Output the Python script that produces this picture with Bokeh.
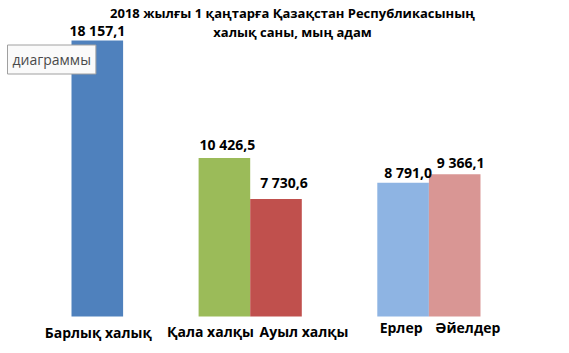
from bokeh.plotting import figure
from bokeh.models import ColumnDataSource, FactorRange, Range1d, Label
from bokeh.core.properties import value
from bokeh.embed import file_html
from bokeh.resources import INLINE

# ---- data ----
categories = ["Барлық халық", "Қала халқы", "Ауыл халқы", "Ерлер", "Әйелдер"]
category_groups = ["all", "urban_rural", "urban_rural", "sex", "sex"]
values = [18157.1, 10426.5, 7730.6, 8791.0, 9366.1]
value_labels = ["18 157,1", "10 426,5", "7 730,6", "8 791,0", "9 366,1"]
title_lines = ["2018 жылғы 1 қаңтарға Қазақстан Республикасының",
               "халық саны, мың адам"]

# ---- styles ----
colors = ["#4F81BD", "#9BBB59", "#C0504D", "#8EB4E3", "#D99694"]
val_dx = [0, 3, 8, 5, 6]
val_dy = [-10, -14, -16, -10, -12]
cat_dx = [1, -14, 28, -2, 13]
cat_dy = [16, 15, 15, 11, 11]
FONT = "Open Sans"

factors = list(zip(category_groups, categories))
src = ColumnDataSource(dict(x=factors, top=values, lab=value_labels, cat=categories,
                            color=colors, vdx=val_dx, vdy=val_dy, cdx=cat_dx, cdy=cat_dy,
                            zero=[0] * len(values)))

x_range = FactorRange(*factors, factor_padding=0, group_padding=1.463,
                      range_padding=1.376, range_padding_units="absolute")

p = figure(width=569, height=353, x_range=x_range, y_range=Range1d(-2434, 20789),
           output_backend="svg", toolbar_location=None,
           x_axis_location=None, y_axis_location=None,
           min_border_left=0, min_border_right=18, min_border_top=0, min_border_bottom=0)
p.grid.visible = False
p.outline_line_color = None
p.background_fill_color = "white"
p.border_fill_color = "white"

p.vbar(x="x", top="top", width=1.0, fill_color="color", line_color=None, source=src)

p.text(x="x", y="top", text="lab", x_offset="vdx", y_offset="vdy", source=src,
       text_font=value(FONT), text_font_style="bold", text_font_size="14px",
       text_align="center", text_baseline="middle", text_color="black")

p.text(x="x", y="zero", text="cat", x_offset="cdx", y_offset="cdy", source=src,
       text_font=value(FONT), text_font_style="bold", text_font_size="14px",
       text_align="center", text_baseline="middle", text_color="black")

for line, yy in zip(title_lines, [341, 322]):
    p.add_layout(Label(x=292, y=yy, x_units="screen", y_units="screen", text=line,
                       text_font=FONT, text_font_style="bold", text_font_size="13px",
                       text_align="center", text_baseline="middle", text_color="black"))

p.add_layout(Label(x=7, y=294, x_units="screen", y_units="screen", text="диаграммы",
                   text_font="Open Sans", text_font_size="14px", text_color="#4A4A4A",
                   text_align="left", text_baseline="middle",
                   background_fill_color="#FAFAFA", border_line_color="#A0A0A0",
                   padding=5))

open("out.html", "w").write(file_html(p, INLINE))
